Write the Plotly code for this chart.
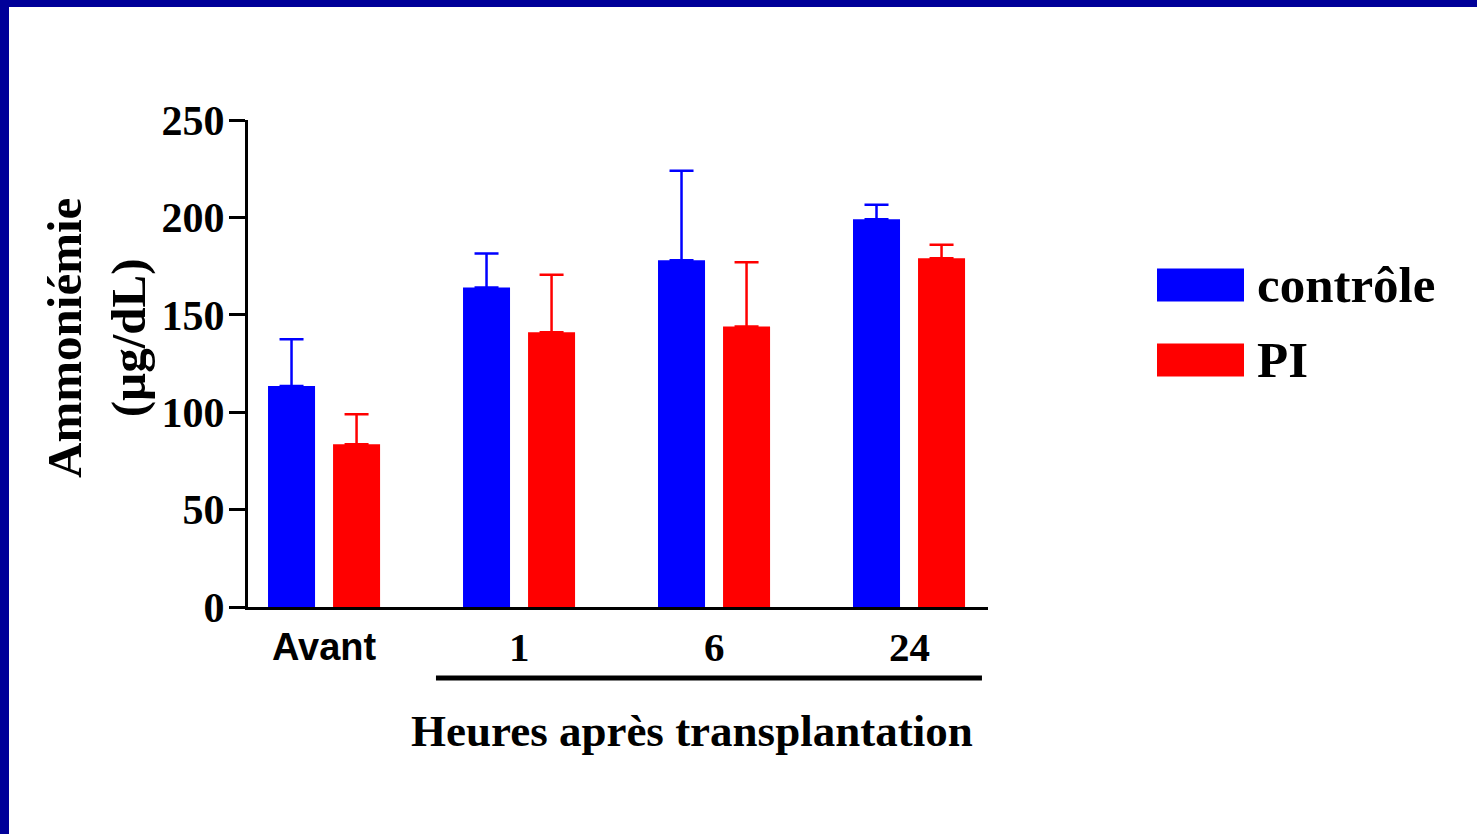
import plotly.graph_objects as go

# Ammonia levels (µg/dL) before and after transplantation
categories = ["Avant", "1", "6", "24"]
controle_mean = [113.5, 164, 178, 199]
controle_err = [24, 17.5, 46, 7.5]
pi_mean = [83.5, 141, 144, 179]
pi_err = [15.5, 29.5, 33, 7]
y_ticks = [0, 50, 100, 150, 200, 250]

W, H = 1477, 834
L, R, T, B = 248, 988, 120, 607  # plot area in pixels

BLUE = "#0000FF"
RED = "#FF0000"
FRAME = "#000099"
SERIF = "Liberation Serif, Times New Roman, serif"
SANS = "Liberation Sans, Arial, sans-serif"


def px_x(px):
    return (px - L) / (R - L)


def px_y(py):
    return (B - py) / (B - T)


fig = go.Figure()
fig.add_trace(go.Bar(
    x=categories, y=controle_mean, name="contrôle",
    marker=dict(color=BLUE, line=dict(width=0)),
    error_y=dict(type="data", array=controle_err, arrayminus=[0] * 4,
                 symmetric=False, color=BLUE, thickness=2.5, width=12),
))
fig.add_trace(go.Bar(
    x=categories, y=pi_mean, name="PI",
    marker=dict(color=RED, line=dict(width=0)),
    error_y=dict(type="data", array=pi_err, arrayminus=[0] * 4,
                 symmetric=False, color=RED, thickness=2.5, width=12),
))

# category labels under the axis
annotations = []
for i, c in enumerate(categories):
    is_text = not c.isdigit()
    annotations.append(dict(
        x=i, xref="x", y=px_y(647), yref="paper", text=f"<b>{c}</b>",
        showarrow=False, xanchor="center", yanchor="middle",
        font=dict(family=SANS if is_text else SERIF,
                  size=38 if is_text else 41, color="black"),
    ))

# axis titles
annotations.append(dict(
    x=px_x(96), xref="paper", y=px_y(338), yref="paper",
    text="<b>Ammoniémie</b><br><b>(µg/dL)</b>", textangle=-90,
    showarrow=False, xanchor="center", yanchor="middle",
    font=dict(family=SERIF, size=49, color="black"),
))
annotations.append(dict(
    x=px_x(692), xref="paper", y=px_y(731), yref="paper",
    text="<b>Heures après transplantation</b>",
    showarrow=False, xanchor="center", yanchor="middle",
    font=dict(family=SERIF, size=45, color="black"),
))

# legend entries
legend_items = [("contrôle", BLUE, 285), ("PI", RED, 360)]
shapes = []
for label, color, cy in legend_items:
    shapes.append(dict(type="rect", xref="paper", yref="paper",
                       x0=px_x(1157), x1=px_x(1244),
                       y0=px_y(cy - 16.5), y1=px_y(cy + 16.5),
                       fillcolor=color, line=dict(width=0)))
    annotations.append(dict(
        x=px_x(1255), xref="paper", y=px_y(cy), yref="paper",
        text=f"<b>{label}</b>", showarrow=False,
        xanchor="left", yanchor="middle",
        font=dict(family=SERIF, size=51, color="black"),
    ))

# bracket under the post-transplant hours
shapes.append(dict(type="line", xref="x", yref="paper",
                   x0=0.574, x1=3.374, y0=px_y(678), y1=px_y(678),
                   line=dict(color="black", width=5)))

# slide frame (top and left edges)
shapes.append(dict(type="rect", xref="paper", yref="paper",
                   x0=px_x(0), x1=px_x(9), y0=px_y(H), y1=px_y(0),
                   fillcolor=FRAME, line=dict(width=0), layer="above"))
shapes.append(dict(type="rect", xref="paper", yref="paper",
                   x0=px_x(0), x1=px_x(W), y0=px_y(7), y1=px_y(0),
                   fillcolor=FRAME, line=dict(width=0), layer="above"))

fig.update_layout(
    width=W, height=H,
    margin=dict(l=L, r=W - R, t=T, b=H - B, pad=0),
    paper_bgcolor="white", plot_bgcolor="white",
    barmode="group", bargap=0.333, bargroupgap=0.277,
    showlegend=False,
    annotations=annotations, shapes=shapes,
)
fig.update_xaxes(
    type="category", range=[-0.39, 3.405],
    showline=True, linecolor="black", linewidth=3,
    showticklabels=False, ticks="", showgrid=False, zeroline=False,
)
fig.update_yaxes(
    range=[0, 250], tickvals=y_ticks, ticktext=[f"<b>{v}</b>" for v in y_ticks],
    showline=True, linecolor="black", linewidth=3,
    ticks="outside", ticklen=16, tickwidth=3, tickcolor="black",
    tickfont=dict(family=SERIF, size=42, color="black"),
    ticklabelstandoff=-4,
    showgrid=False, zeroline=False,
)

fig.write_html("out.html")
